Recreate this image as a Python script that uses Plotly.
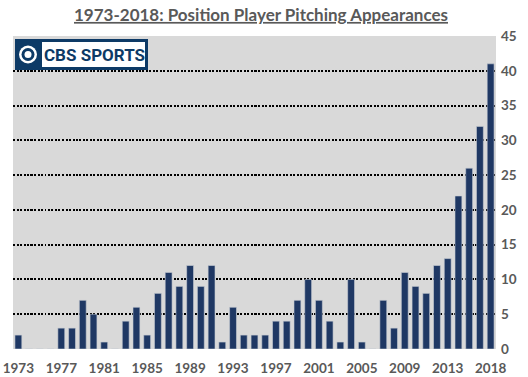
import plotly.graph_objects as go

years = list(range(1973, 2018))
appearances = [2, 0, 0, 0, 3, 3, 7, 5, 1, 0, 4, 6, 2, 8, 11, 9, 12, 9, 12, 1,
               6, 2, 2, 2, 4, 4, 7, 10, 7, 4, 1, 10, 1, 0, 7, 3, 11, 9, 8, 12,
               13, 22, 26, 32, 41]
x_tick_pos = [0, 4, 8, 12, 16, 20, 24, 28, 32, 36, 40, 44]
x_tick_text = ["1973", "1977", "1981", "1985", "1989", "1993", "1997", "2001",
               "2005", "2009", "2013", "2018"]
y_ticks = [0, 5, 10, 15, 20, 25, 30, 35, 40, 45]

W, H = 528, 377
# plot area in page pixels: x 13..496, y 36..349
PL, PR, PT, PB = 13, 496, 36, 349
L, T = PL, PT
R, B = W - PR, H - PB
pw, ph = PR - PL, PB - PT

def px(x):
    return (x - PL) / pw

def py(y):
    return (PB - y) / ph

NAVY_LOGO = "#0d3a66"
fig = go.Figure()
fig.add_trace(go.Bar(
    x=list(range(len(years))), y=appearances,
    marker=dict(color="#1f3864", line=dict(color="#c8ccd4", width=0.6)),
    customdata=years, hovertemplate="%{customdata}: %{y}<extra></extra>",
))

shapes = [
    dict(type="rect", xref="paper", yref="paper", x0=px(15), x1=px(148), y0=py(70), y1=py(39),
         fillcolor=NAVY_LOGO, line=dict(width=0), layer="above"),
    dict(type="rect", xref="paper", yref="paper", x0=px(42), x1=px(145), y0=py(67), y1=py(42),
         fillcolor="white", line=dict(width=0), layer="above"),
    dict(type="circle", xref="paper", yref="paper", x0=px(19), x1=px(37), y0=py(63.5), y1=py(45.5),
         fillcolor="white", line=dict(width=0), layer="above"),
    dict(type="circle", xref="paper", yref="paper", x0=px(21.5), x1=px(34.5), y0=py(61), y1=py(48),
         fillcolor=NAVY_LOGO, line=dict(width=0), layer="above"),
    dict(type="circle", xref="paper", yref="paper", x0=px(24.5), x1=px(31.5), y0=py(58), y1=py(51),
         fillcolor="white", line=dict(width=0), layer="above"),
]

tick_font = dict(size=13.5, family="Lato", color="#595959", weight="bold")

fig.update_layout(
    width=W, height=H,
    margin=dict(l=L, r=R, t=T, b=B, pad=0, autoexpand=False),
    paper_bgcolor="white", plot_bgcolor="#d9d9d9",
    showlegend=False, bargap=0.36,
    font=dict(family="Lato", color="#595959"),
    title=dict(text="<b><u>1973-2018: Position Player Pitching Appearances</u></b>",
               x=261 / W, xref="container", xanchor="center",
               y=1 - 15 / H, yref="container", yanchor="middle",
               font=dict(size=17, color="#595959", family="Lato"), automargin=False),
    xaxis=dict(range=[-0.5, 44.5], tickvals=x_tick_pos, ticktext=x_tick_text,
               showgrid=False, zeroline=False, showline=False, ticks="",
               tickfont=tick_font, ticklabelstandoff=9, automargin=False,
               ticklabeloverflow="allow"),
    yaxis=dict(range=[0, 45], side="right", tickvals=y_ticks, showgrid=False,
               zeroline=False, showline=False, ticks="",
               tickfont=tick_font, ticklabelstandoff=4, automargin=False,
               ticklabeloverflow="allow",
               minor=dict(tickvals=y_ticks[1:], showgrid=True, gridcolor="black",
                          gridwidth=1.5, griddash="2px,1.5px", ticks="")),
    shapes=shapes,
    annotations=[dict(text="<b>CBS SPORTS</b>", xref="paper", yref="paper",
                      x=px(94), y=py(54.5), xanchor="center", yanchor="middle",
                      showarrow=False, font=dict(size=17, color=NAVY_LOGO, family="Roboto"))],
)

fig.write_html("out.html", config={"displayModeBar": False},
               post_script="document.body.style.margin='0px';")
